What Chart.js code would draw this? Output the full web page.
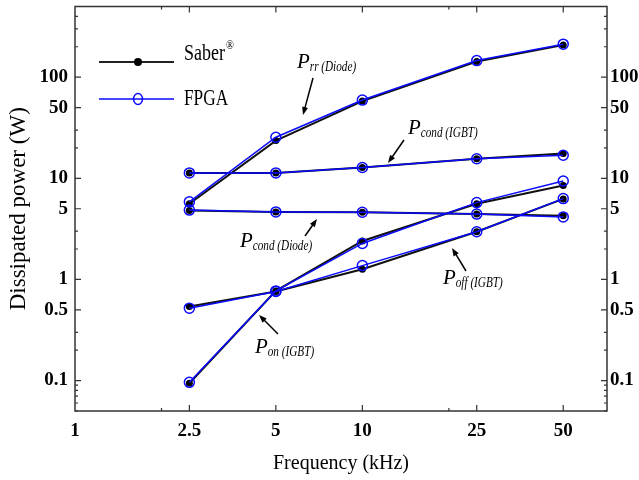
<!DOCTYPE html>
<html>
<head>
<meta charset="utf-8">
<script src="https://cdn.jsdelivr.net/npm/chart.js@4.4.0/dist/chart.umd.min.js"></script>
<style>
  html, body { margin: 0; padding: 0; background: #fff; }
</style>
</head>
<body>
<canvas id="chart" width="639" height="480"></canvas>
<script>
// switching frequency (kHz)
const freqKHz = [2.5, 5, 10, 25, 50];

// dissipated power (W), Saber simulation vs FPGA
const prrSaber        = [5.6, 23.6, 58, 143, 208];
const prrFpga         = [5.85, 25.5, 59.4, 146, 212];
const pcondIgbtSaber  = [11.3, 11.3, 12.8, 15.6, 17.6];
const pcondIgbtFpga   = [11.3, 11.3, 12.8, 15.6, 16.9];
const pcondDiodeSaber = [4.8, 4.65, 4.62, 4.43, 4.26];
const pcondDiodeFpga  = [4.85, 4.65, 4.62, 4.43, 4.15];
const ponSaber        = [0.094, 0.77, 2.4, 5.6, 8.5];
const ponFpga         = [0.096, 0.77, 2.27, 5.75, 9.4];
const poffSaber       = [0.54, 0.76, 1.26, 2.96, 6.26];
const poffFpga        = [0.52, 0.76, 1.37, 2.96, 6.3];

// tick labels
const xTickValues = [1, 2.5, 5, 10, 25, 50];
const yTickValues = [0.1, 0.5, 1, 5, 10, 50, 100];
const xMinorTicks = [2, 20];
const yMinorTicks = [0.05, 0.06, 0.07, 0.08, 0.09, 0.2, 0.3, 2, 3, 20, 30, 200, 300, 400];

const BLUE = '#0a0aff';
const SERIF = '"Liberation Serif", "Times New Roman", serif';

function pairs(vals) {
  return freqKHz.map((f, i) => ({ x: f, y: vals[i] }));
}

function saberSet(name, vals) {
  return {
    label: 'Saber ' + name,
    data: pairs(vals),
    borderColor: '#111',
    borderWidth: 2,
    pointRadius: 3.5,
    pointBackgroundColor: '#000',
    pointBorderColor: '#000',
    pointBorderWidth: 0,
    order: 2
  };
}

function fpgaSet(name, vals) {
  return {
    label: 'FPGA ' + name,
    data: pairs(vals),
    borderColor: BLUE,
    borderWidth: 1.5,
    pointRadius: 5,
    pointBackgroundColor: 'rgba(0,0,0,0)',
    pointBorderColor: BLUE,
    pointBorderWidth: 1.5,
    order: 1
  };
}

// little helper, draws text narrowed horizontally
function narrowText(ctx, str, x, y, font, sx) {
  ctx.save();
  ctx.font = font;
  ctx.translate(x, y);
  ctx.scale(sx, 1);
  ctx.fillText(str, 0, 0);
  const w = ctx.measureText(str).width * sx;
  ctx.restore();
  return w;
}

function arrow(ctx, x1, y1, x2, y2) {
  const a = Math.atan2(y2 - y1, x2 - x1);
  const len = 8, hw = 3;
  ctx.beginPath();
  ctx.moveTo(x1, y1);
  ctx.lineTo(x2 - Math.cos(a) * len * 0.8, y2 - Math.sin(a) * len * 0.8);
  ctx.stroke();
  ctx.beginPath();
  ctx.moveTo(x2, y2);
  ctx.lineTo(x2 - Math.cos(a) * len - Math.sin(a) * hw, y2 - Math.sin(a) * len + Math.cos(a) * hw);
  ctx.lineTo(x2 - Math.cos(a) * len + Math.sin(a) * hw, y2 - Math.sin(a) * len - Math.cos(a) * hw);
  ctx.closePath();
  ctx.fill();
}

// frame around the plot + inward ticks
const frameTicks = {
  id: 'frameTicks',
  afterDraw(chart) {
    const ctx = chart.ctx;
    const a = chart.chartArea;
    const xs = chart.scales.x, ys = chart.scales.y;
    ctx.save();
    ctx.strokeStyle = '#333';
    ctx.lineWidth = 1.5;
    ctx.strokeRect(a.left, a.top, a.right - a.left, a.bottom - a.top);
    ctx.lineWidth = 1.2;
    ctx.beginPath();
    const xt = xTickValues.slice(1).map(v => [v, 6]).concat(xMinorTicks.map(v => [v, 3]));
    xt.forEach(([v, l]) => {
      const px = xs.getPixelForValue(v);
      ctx.moveTo(px, a.bottom); ctx.lineTo(px, a.bottom - l);
      ctx.moveTo(px, a.top); ctx.lineTo(px, a.top + l);
    });
    const yt = yTickValues.map(v => [v, 6]).concat(yMinorTicks.map(v => [v, 3]));
    yt.forEach(([v, l]) => {
      const py = ys.getPixelForValue(v);
      ctx.moveTo(a.left, py); ctx.lineTo(a.left + l, py);
      ctx.moveTo(a.right, py); ctx.lineTo(a.right - l, py);
    });
    ctx.stroke();
    ctx.restore();
  }
};

// curve names with arrows
const notes = [
  { sub: 'rr (Diode)',   x: 297, y: 68,  ar: [313, 78, 303, 115] },
  { sub: 'cond (IGBT)',  x: 408, y: 134, ar: [404, 140, 388, 163] },
  { sub: 'cond (Diode)', x: 240, y: 247, ar: [305, 236, 317, 219] },
  { sub: 'off (IGBT)',   x: 443, y: 284, ar: [466, 271, 452, 248] },
  { sub: 'on (IGBT)',    x: 255, y: 353, ar: [278, 334, 259, 315] }
];

const noteLabels = {
  id: 'noteLabels',
  afterDraw(chart) {
    const ctx = chart.ctx;
    ctx.save();
    ctx.fillStyle = '#000';
    ctx.strokeStyle = '#000';
    ctx.lineWidth = 1.5;
    notes.forEach(n => {
      const w = narrowText(ctx, 'P', n.x, n.y, 'italic 22px ' + SERIF, 0.95);
      narrowText(ctx, n.sub, n.x + w, n.y + 3, 'italic 14px ' + SERIF, 0.8);
      arrow(ctx, n.ar[0], n.ar[1], n.ar[2], n.ar[3]);
    });
    ctx.restore();
  }
};

// legend box in the top left corner
const legendBox = {
  id: 'legendBox',
  afterDraw(chart) {
    const ctx = chart.ctx;
    ctx.save();
    ctx.lineWidth = 2;
    ctx.strokeStyle = '#222';
    ctx.beginPath(); ctx.moveTo(99, 62); ctx.lineTo(174, 62); ctx.stroke();
    ctx.fillStyle = '#000';
    ctx.beginPath(); ctx.arc(138, 62, 4, 0, Math.PI * 2); ctx.fill();
    ctx.lineWidth = 1.5;
    ctx.strokeStyle = BLUE;
    ctx.beginPath(); ctx.moveTo(99, 99); ctx.lineTo(174, 99); ctx.stroke();
    ctx.beginPath(); ctx.ellipse(138, 99, 4.5, 5.5, 0, 0, Math.PI * 2); ctx.stroke();
    ctx.fillStyle = '#000';
    const w = narrowText(ctx, 'Saber', 184, 60, '24px ' + SERIF, 0.75);
    narrowText(ctx, '®', 184 + w + 1, 49, '13px ' + SERIF, 0.8);
    narrowText(ctx, 'FPGA', 184, 105, '24px ' + SERIF, 0.72);
    ctx.restore();
  }
};

const tickFont = { family: SERIF, size: 19, weight: 'bold' };

function logAxis(pos, width, pad) {
  return {
    type: 'logarithmic',
    position: pos,
    display: true,
    min: 0.05,
    max: 500,
    grid: { display: false, drawTicks: false },
    border: { display: false },
    ticks: { font: tickFont, color: '#000', padding: pad, autoSkip: false, callback: v => String(v) },
    afterBuildTicks: s => { s.ticks = yTickValues.map(v => ({ value: v })); },
    afterFit: s => { s.width = width; s.paddingTop = 0; s.paddingBottom = 0; }
  };
}

const yLeft = logAxis('left', 75, 7);
yLeft.title = {
  display: true,
  text: 'Dissipated power (W)',
  color: '#000',
  font: { family: SERIF, size: 23 },
  padding: { top: 5, bottom: 0 }
};
const yRight = logAxis('right', 32, 3);

new Chart(document.getElementById('chart').getContext('2d'), {
  type: 'line',
  data: {
    datasets: [
      saberSet('Prr (Diode)', prrSaber),
      fpgaSet('Prr (Diode)', prrFpga),
      saberSet('Pcond (IGBT)', pcondIgbtSaber),
      fpgaSet('Pcond (IGBT)', pcondIgbtFpga),
      saberSet('Pcond (Diode)', pcondDiodeSaber),
      fpgaSet('Pcond (Diode)', pcondDiodeFpga),
      saberSet('Pon (IGBT)', ponSaber),
      fpgaSet('Pon (IGBT)', ponFpga),
      saberSet('Poff (IGBT)', poffSaber),
      fpgaSet('Poff (IGBT)', poffFpga)
    ]
  },
  options: {
    responsive: false,
    animation: false,
    devicePixelRatio: 1,
    layout: { padding: { top: 4, left: 0, right: 0, bottom: 0 } },
    plugins: {
      legend: { display: false },
      tooltip: { enabled: false }
    },
    scales: {
      x: {
        type: 'logarithmic',
        position: 'bottom',
        min: 1,
        max: 71,
        grid: { display: false, drawTicks: false },
        border: { display: false },
        ticks: { font: tickFont, color: '#000', padding: 9, autoSkip: false, maxRotation: 0, callback: v => String(v) },
        afterBuildTicks: s => { s.ticks = xTickValues.map(v => ({ value: v })); },
        afterFit: s => { s.height = 69; s.paddingLeft = 0; s.paddingRight = 0; },
        title: {
          display: true,
          text: 'Frequency (kHz)',
          color: '#000',
          font: { family: SERIF, size: 20 },
          padding: { top: 0, bottom: 4 }
        }
      },
      y: yLeft,
      y2: yRight
    }
  },
  plugins: [frameTicks, noteLabels, legendBox]
});
</script>
</body>
</html>
